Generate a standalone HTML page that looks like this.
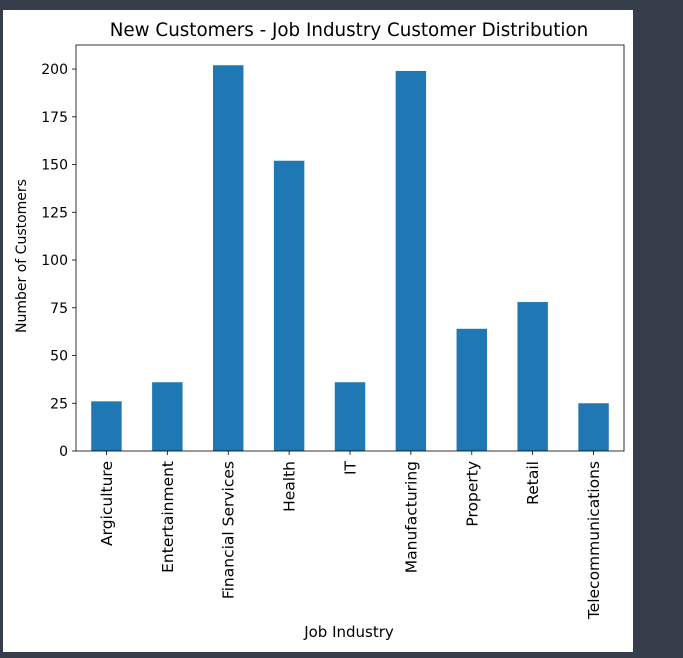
<!DOCTYPE html>
<html><head><meta charset="utf-8"><style>
body{margin:0;background:#373e4b;width:683px;height:658px;overflow:hidden;font-family:"DejaVu Sans","Liberation Sans",sans-serif}
#card{position:absolute;left:3px;top:10px;width:630px;height:642px;background:#fff}
svg{position:absolute;left:0;top:0}
</style></head><body>
<div id="card"></div>
<svg id="c" width="683" height="658"></svg>
<script>
const categories=["Argiculture","Entertainment","Financial Services","Health","IT","Manufacturing","Property","Retail","Telecommunications"];
const values=[26,36,202,152,36,199,64,78,25];
const yTicks=[0,25,50,75,100,125,150,175,200];
const L=76,R=624,T=45,B=451;
const yMax=212.6;
const y=v=>B-(v/yMax)*(B-T);
const band=(R-L)/categories.length;
const x=i=>L+band*(i+0.5);
const ns="http://www.w3.org/2000/svg";
const svg=document.getElementById('c');
function mk(t,a,txt){const e=document.createElementNS(ns,t);for(const k in a)e.setAttribute(k,a[k]);if(txt!==undefined)e.textContent=txt;svg.appendChild(e);return e;}
values.forEach((v,i)=>{
 const r=mk('rect',{x:x(i)-band*0.25,y:y(v),width:band*0.5,height:B-y(v),fill:'#1f77b4'});
 
 
 mk('line',{x1:x(i),x2:x(i),y1:B,y2:B+4,stroke:'#000','stroke-width':0.8});
 const t=mk('text',{x:0,y:0,'font-size':15.5,'text-anchor':'end',fill:'#000',transform:`translate(${x(i)+5.5},${B+10}) rotate(-90)`},categories[i]);
 
 
});
yTicks.forEach(v=>{
 mk('line',{x1:L-4,x2:L,y1:y(v),y2:y(v),stroke:'#000','stroke-width':0.8});
 const t=mk('text',{x:L-8,y:y(v)+5,'font-size':14,'text-anchor':'end',fill:'#000'},v);
 
 
});
const f=mk('rect',{x:L,y:T,width:R-L,height:B-T,fill:'none',stroke:'#000','stroke-width':0.8});


const ti=mk('text',{x:(L+R)/2-1,y:36,'font-size':18.3,'text-anchor':'middle',fill:'#000'},'New Customers - Job Industry Customer Distribution');


const xt=mk('text',{x:349,y:637,'font-size':15,'text-anchor':'middle',fill:'#000'},'Job Industry');


const yt=mk('text',{x:0,y:0,'font-size':14,'text-anchor':'middle',fill:'#000',transform:`translate(26,${(T+B)/2+8}) rotate(-90)`},'Number of Customers');


</script>
</body></html>
